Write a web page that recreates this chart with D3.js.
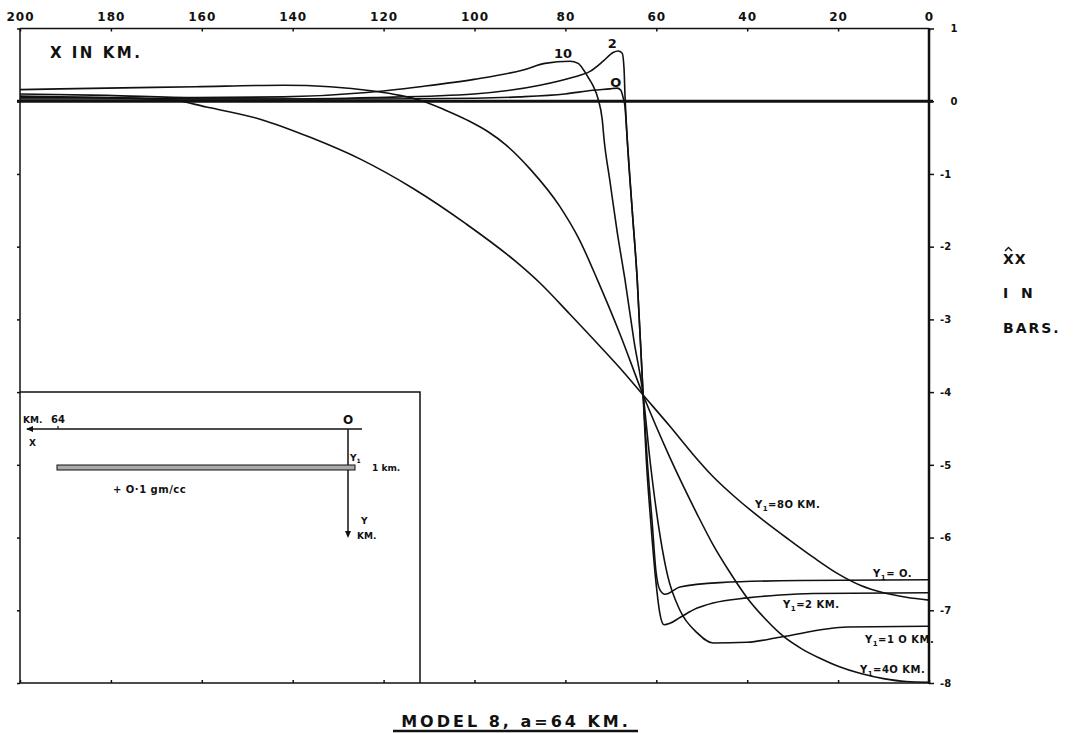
<!DOCTYPE html>
<html>
<head>
<meta charset="utf-8">
<script src="https://cdnjs.cloudflare.com/ajax/libs/d3/7.8.5/d3.min.js"></script>
<style>
body { margin: 0; background: #fff; }
text { font-family: "DejaVu Sans", sans-serif; font-weight: bold; fill: #111; }
</style>
</head>
<body>
<div id="viz"></div>
<script>
// tick labels
var xTicks = [200, 180, 160, 140, 120, 100, 80, 60, 40, 20, 0];
var yTicks = [1, 0, -1, -2, -3, -4, -5, -6, -7, -8];

// curves: [x in km, xx stress in bars]
var y1_0 = [[200,0.03],[160,0.03],[120,0.03],[100,0.04],[90,0.06],[80.1,0.1],[73.9,0.15],[70.2,0.17],[68.6,0.18],
    [67.8,0.15],[67.3,0.05],[66.9,-0.07],[66.4,-0.52],[65.3,-1.5],[64.2,-2.45],[62.9,-4.04],[62,-4.93],[60.9,-5.8],
    [60.1,-6.45],[59.2,-6.72],[58.1,-6.78],[54.8,-6.68],[46,-6.62],[28.4,-6.59],[0,-6.58]];
var y1_2 = [[200,0.07],[180.9,0.05],[161.3,0.03],[142.1,0.03],[122.3,0.05],[100.1,0.1],[85.6,0.22],[78.3,0.33],
    [74.6,0.41],[71.7,0.55],[69.5,0.67],[68.4,0.69],[67.5,0.66],[67.1,0.45],[66.9,0.1],[66.4,-0.52],[65.3,-1.5],
    [64.2,-2.45],[62.9,-4.04],[62.2,-4.93],[61.2,-5.8],[60.1,-6.6],[59.2,-7.05],[58.3,-7.2],[57,-7.18],[54.8,-7.1],
    [51,-6.97],[47.5,-6.9],[40,-6.83],[32.8,-6.79],[25.5,-6.77],[0,-6.76]];
var y1_10 = [[200,0.1],[180.9,0.08],[161.3,0.05],[142.1,0.06],[123.7,0.12],[112,0.2],[100.1,0.3],[89.3,0.43],
    [84.5,0.52],[79,0.55],[77.2,0.52],[76.1,0.44],[75,0.33],[73.9,0.21],[72.8,0.03],[71.9,-0.25],[71.5,-0.52],
    [70.2,-1.1],[68.6,-1.8],[66.9,-2.45],[64.9,-3.3],[62.9,-4.04],[61.4,-4.93],[59.6,-5.8],[57.6,-6.5],[54.8,-7.0],
    [51,-7.31],[47.5,-7.45],[40,-7.44],[32.8,-7.37],[18,-7.23],[0,-7.22]];
var y1_40 = [[200,0.16],[180.9,0.18],[161.3,0.2],[142.1,0.22],[131.8,0.2],[122.3,0.14],[116.4,0.08],[111.3,0.0],
    [106.5,-0.12],[101.6,-0.26],[97,-0.42],[93.1,-0.6],[87.8,-0.93],[81.2,-1.45],[76.8,-1.92],[73,-2.45],[68,-3.2],
    [62.9,-4.04],[57,-4.9],[54,-5.3],[51,-5.68],[47.5,-6.1],[44,-6.46],[40,-6.83],[36,-7.12],[32,-7.36],[28,-7.53],
    [24,-7.66],[20,-7.77],[15,-7.87],[10,-7.94],[5,-7.98],[0,-7.99]];
var y1_80 = [[200,0.05],[185,0.05],[167,0.02],[159,-0.08],[147,-0.25],[136,-0.5],[125,-0.8],[113.5,-1.2],[102,-1.68],
    [91,-2.2],[85.6,-2.5],[79,-2.93],[72.4,-3.37],[67,-3.74],[62.9,-4.04],[57,-4.47],[52,-4.85],[47.7,-5.15],
    [42,-5.48],[36.5,-5.76],[31,-6.02],[25.5,-6.27],[20,-6.5],[15,-6.66],[10,-6.76],[5,-6.82],[0,-6.86]];

var series = [y1_0, y1_2, y1_10, y1_40, y1_80];

var W = 1085, H = 733;
var pLeft = 20, pRight = 929, pTop = 28.5, pBottom = 683;

var svg = d3.select("#viz").append("svg")
    .attr("width", W)
    .attr("height", H);

var x = d3.scaleLinear().domain([200, 0]).range([pLeft, pRight]);
var y = d3.scaleLinear().domain([1, -8]).range([pTop, pBottom]);

// axes
var gTop = svg.append("g")
    .attr("transform", "translate(0," + pTop + ")")
    .call(d3.axisTop(x).tickValues(xTicks).tickSize(-3).tickPadding(8).tickFormat(d3.format("d")));
gTop.selectAll("text").style("font-size", "12px").style("letter-spacing", "1px");

var gRight = svg.append("g")
    .attr("transform", "translate(" + pRight + ",0)")
    .call(d3.axisRight(y).tickValues(yTicks).tickSize(5).tickFormat(function(d){ return d < 0 ? "-" + (-d) : d; }));
gRight.selectAll("text")
    .style("font-size", "10px")
    .attr("text-anchor", function(d){ return d < 0 ? "start" : "middle"; })
    .attr("x", function(d){ return d < 0 ? 11 : 25; });

svg.append("g")
    .attr("transform", "translate(0," + pBottom + ")")
    .call(d3.axisBottom(x).tickValues(xTicks).tickSize(-3).tickFormat(""));
svg.append("g")
    .attr("transform", "translate(" + pLeft + ",0)")
    .call(d3.axisLeft(y).tickValues(yTicks).tickSize(3).tickFormat(""));

svg.selectAll(".domain").remove();
svg.selectAll(".tick line").attr("stroke", "#111").attr("stroke-width", 1.5);

// frame
svg.append("line").attr("x1", pLeft).attr("x2", pRight).attr("y1", pTop).attr("y2", pTop)
    .attr("stroke", "#111").attr("stroke-width", 1.5);
svg.append("line").attr("x1", pLeft).attr("x2", pRight).attr("y1", pBottom).attr("y2", pBottom)
    .attr("stroke", "#111").attr("stroke-width", 1.5);
svg.append("line").attr("x1", pLeft).attr("x2", pLeft).attr("y1", pTop).attr("y2", pBottom)
    .attr("stroke", "#111").attr("stroke-width", 1.5);
svg.append("line").attr("x1", pRight).attr("x2", pRight).attr("y1", pTop).attr("y2", pBottom + 1)
    .attr("stroke", "#111").attr("stroke-width", 2.5);

// zero line
svg.append("line").attr("x1", pLeft - 3).attr("x2", pRight + 4).attr("y1", y(0)).attr("y2", y(0))
    .attr("stroke", "#111").attr("stroke-width", 3);

// curves
var line = d3.line()
    .x(function(d){ return x(d[0]); })
    .y(function(d){ return y(d[1]); })
    .curve(d3.curveMonotoneX);

svg.selectAll(".curve")
    .data(series)
    .enter()
    .append("path")
    .attr("class", "curve")
    .attr("d", line)
    .attr("fill", "none")
    .attr("stroke", "#111")
    .attr("stroke-width", 1.6);

// curve labels near the top
function small(txt, km, v, size) {
    return svg.append("text").attr("x", x(km)).attr("y", y(v))
        .attr("text-anchor", "middle").style("font-size", size + "px").text(txt);
}
small("10", 80.5, 0.59, 13);
small("2", 69.7, 0.73, 13);
small("O", 68.9, 0.19, 13);

// Y1 labels at the right
function yLabel(rest, km, v) {
    var t = svg.append("text").attr("x", x(km)).attr("y", y(v))
        .style("font-size", "10px").style("letter-spacing", "0.5px");
    t.append("tspan").text("Y");
    t.append("tspan").attr("dy", 3).style("font-size", "7px").text("1");
    t.append("tspan").attr("dy", -3).text(rest);
}
yLabel("=8O  KM.", 38.3, -5.6);
yLabel("= O.", 12.3, -6.54);
yLabel("=2  KM.", 32.1, -6.97);
yLabel("=1 O KM.", 14.1, -7.45);
yLabel("=4O  KM.", 15.2, -7.86);

// axis titles
svg.append("text").attr("x", 50).attr("y", 58)
    .style("font-size", "15px").style("letter-spacing", "2.5px").text("X IN KM.");

svg.append("text").attr("x", 1003).attr("y", 264)
    .style("font-size", "14px").style("letter-spacing", "1px").text("XX");
svg.append("path").attr("d", "M1005,251 L1008.5,247.5 L1012,251")
    .attr("fill", "none").attr("stroke", "#111").attr("stroke-width", 1.4);
svg.append("text").attr("x", 1003).attr("y", 298)
    .style("font-size", "14px").style("letter-spacing", "4px").text("I N");
svg.append("text").attr("x", 1003).attr("y", 333)
    .style("font-size", "14px").style("letter-spacing", "2px").text("BARS.");

// title
svg.append("text").attr("x", 516).attr("y", 727).attr("text-anchor", "middle")
    .style("font-size", "16px").style("letter-spacing", "3px").text("MODEL 8, a=64 KM.");
svg.append("line").attr("x1", 393).attr("x2", 638).attr("y1", 731).attr("y2", 731)
    .attr("stroke", "#111").attr("stroke-width", 2.5);

// inset sketch of the model
var inset = svg.append("g");
inset.append("path")
    .attr("d", "M" + pLeft + ",392 H420 V" + pBottom)
    .attr("fill", "none").attr("stroke", "#111").attr("stroke-width", 1.5);
// x axis with arrow
inset.append("line").attr("x1", 27).attr("x2", 362).attr("y1", 429).attr("y2", 429)
    .attr("stroke", "#111").attr("stroke-width", 1.5);
inset.append("path").attr("d", "M26,429 L33,426 L33,432 Z").attr("fill", "#111");
inset.append("line").attr("x1", 58).attr("x2", 58).attr("y1", 426).attr("y2", 429)
    .attr("stroke", "#111").attr("stroke-width", 1.2);
inset.append("text").attr("x", 23).attr("y", 423).style("font-size", "9px").text("KM.");
inset.append("text").attr("x", 51).attr("y", 423).style("font-size", "10px").text("64");
inset.append("text").attr("x", 29).attr("y", 446).style("font-size", "9px").text("X");
inset.append("text").attr("x", 348).attr("y", 424).attr("text-anchor", "middle").style("font-size", "12px").text("O");
// y axis with arrow
inset.append("line").attr("x1", 348).attr("x2", 348).attr("y1", 429).attr("y2", 536)
    .attr("stroke", "#111").attr("stroke-width", 1.5);
inset.append("path").attr("d", "M348,538 L345,531 L351,531 Z").attr("fill", "#111");
inset.append("text").attr("x", 361).attr("y", 524).style("font-size", "9px").text("Y");
inset.append("text").attr("x", 357).attr("y", 539).style("font-size", "9px").text("KM.");
// slab
inset.append("rect").attr("x", 57).attr("y", 465).attr("width", 298).attr("height", 5)
    .attr("fill", "#aaa").attr("stroke", "#111").attr("stroke-width", 1);
var yt = inset.append("text").attr("x", 350).attr("y", 461).style("font-size", "9px");
yt.append("tspan").text("Y");
yt.append("tspan").attr("dy", 2).style("font-size", "6px").text("1");
inset.append("text").attr("x", 372).attr("y", 471).style("font-size", "9px").text("1 km.");
inset.append("text").attr("x", 113).attr("y", 493).style("font-size", "10px").style("letter-spacing", "0.5px")
    .text("+ O\u00b71  gm/cc");
</script>
</body>
</html>
